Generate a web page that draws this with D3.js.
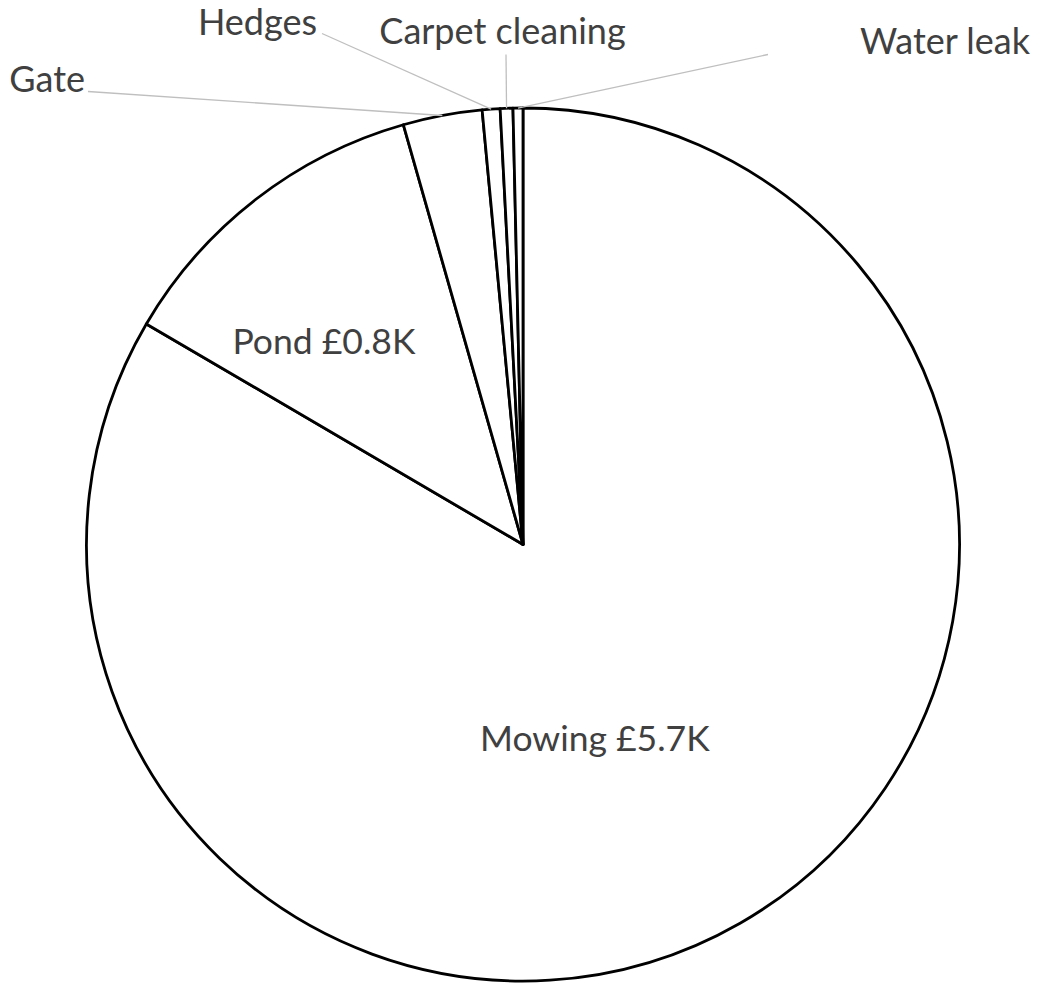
<!DOCTYPE html>
<html>
<head>
<meta charset="utf-8">
<script src="https://cdn.jsdelivr.net/npm/d3@7"></script>
<style>
  html, body { margin: 0; padding: 0; background: #fff; }
  svg { display: block; }
</style>
</head>
<body>
<div id="chart"></div>
<script>
// 数据
const categories = ["Mowing", "Pond", "Gate", "Hedges", "Carpet cleaning", "Water leak"]
const costs = [5700, 830, 200, 45, 32, 25]
// 只有大块显示金额
const showValue = [true, true, false, false, false, false]

const width = 1042, height = 983
const cx = 523, cy = 544.5, radius = 436.5

// 标签位置（相对圆心），内部标签用极坐标，外部标签用引线
const labelLayout = {
  "Mowing": { inside: true, angle: 159.7, r: 207 },
  "Pond": { inside: true, angle: -44.5, r: 284 },
  "Gate": { x: -438, y: -453, anchor: "end", lx: -435, ly: -453 },
  "Hedges": { x: -206, y: -510, anchor: "end", lx: -201, ly: -511 },
  "Carpet cleaning": { x: -20.5, y: -501, anchor: "middle", lx: -17, ly: -490 },
  "Water leak": { x: 337, y: -491, anchor: "start", lx: 245, ly: -490 }
}

const data = categories.map((c, i) => ({ name: c, value: costs[i], showValue: showValue[i] }))

const svg = d3.select("#chart").append("svg")
  .attr("width", width).attr("height", height)
  .style("font-family", "Lato, 'Open Sans', sans-serif")

const g = svg.append("g").attr("transform", `translate(${cx},${cy})`)

const pie = d3.pie().sort(null).value(d => d.value)
const arc = d3.arc().innerRadius(0).outerRadius(radius)
const arcs = pie(data)

// 扇形
g.selectAll("path.slice")
  .data(arcs)
  .enter()
  .append("path")
  .attr("class", "slice")
  .attr("d", arc)
  .attr("fill", "#fff")
  .attr("stroke", "#000")
  .attr("stroke-width", 2.8)
  .attr("stroke-linejoin", "round")

const fmt = v => "£" + (v / 1000).toFixed(1) + "K"

// 内部标签
const inner = arcs.filter(d => labelLayout[d.data.name].inside)
g.selectAll("text.inner")
  .data(inner)
  .enter()
  .append("text")
  .attr("class", "inner")
  .attr("x", d => {
    const l = labelLayout[d.data.name]
    return l.r * Math.sin(l.angle * Math.PI / 180)
  })
  .attr("y", d => {
    const l = labelLayout[d.data.name]
    return -l.r * Math.cos(l.angle * Math.PI / 180)
  })
  .attr("dy", "0.35em")
  .attr("text-anchor", "middle")
  .attr("fill", "#404040")
  .style("font-size", "35.5px")
  .text(d => d.data.name + " " + fmt(d.data.value))

// 外部标签 + 引线
const outer = arcs.filter(d => !labelLayout[d.data.name].inside)
g.selectAll("line.leader")
  .data(outer)
  .enter()
  .append("line")
  .attr("class", "leader")
  .attr("x1", d => labelLayout[d.data.name].lx)
  .attr("y1", d => labelLayout[d.data.name].ly)
  .attr("x2", d => {
    const a = (d.startAngle + d.endAngle) / 2
    return radius * Math.sin(a)
  })
  .attr("y2", d => {
    const a = (d.startAngle + d.endAngle) / 2
    return -radius * Math.cos(a)
  })
  .attr("stroke", "#bfbfbf")
  .attr("stroke-width", 1.3)

g.selectAll("text.outer")
  .data(outer)
  .enter()
  .append("text")
  .attr("class", "outer")
  .attr("x", d => labelLayout[d.data.name].x)
  .attr("y", d => labelLayout[d.data.name].y)
  .attr("text-anchor", d => labelLayout[d.data.name].anchor)
  .attr("fill", "#404040")
  .style("font-size", "36px")
  .text(d => d.data.name)
</script>
</body>
</html>
